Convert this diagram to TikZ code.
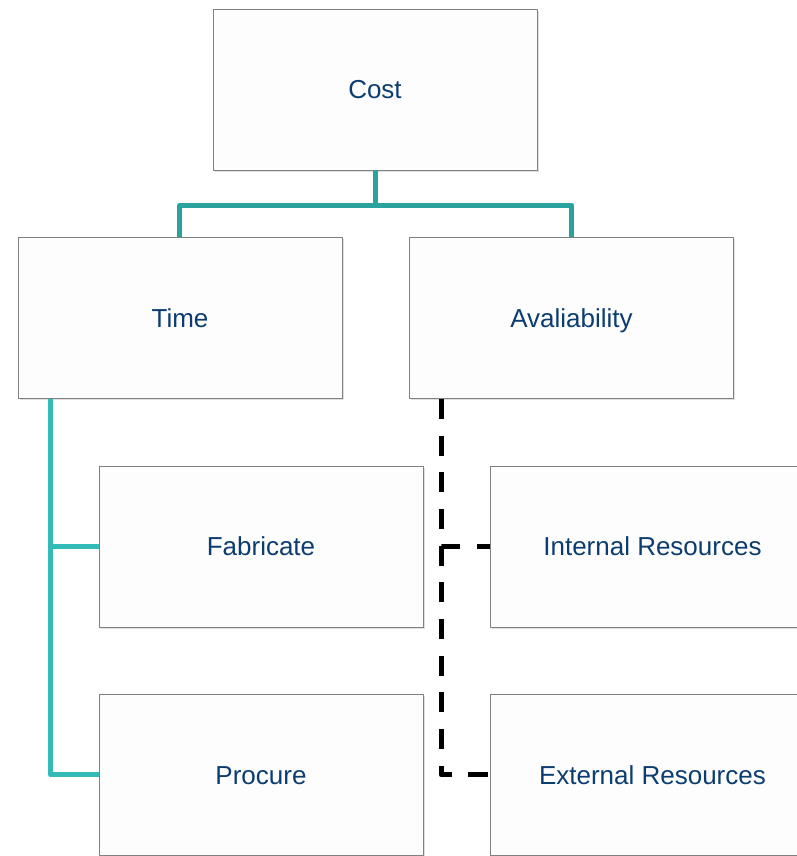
\documentclass[tikz,border=0pt]{standalone}
\usepackage{fontspec}
\setmainfont{Liberation Sans}
\usepackage{tikz}
\usetikzlibrary{positioning,shadows}

\definecolor{labelblue}{RGB}{12,61,112}
\definecolor{topteal}{RGB}{42,163,158}
\definecolor{sideteal}{RGB}{51,187,186}
\definecolor{boxfill}{RGB}{253,253,253}
\definecolor{boxline}{RGB}{128,128,128}

\begin{document}
\begin{tikzpicture}[node distance=50pt, line join=round,
    box node/.style={rectangle, draw=boxline, fill=boxfill, line width=0.6pt, minimum width=243pt, minimum height=120.75pt, inner sep=0pt, text height=14pt, text depth=0pt, text=labelblue, font=\fontsize{19.5}{23}\selectfont, drop shadow={shadow xshift=1.2pt, shadow yshift=-1.5pt, opacity=0.25}},
    solid link/.style={line width=3.75pt},
    dash link/.style={line width=3.75pt, black, dash pattern=on 15pt off 12.5pt}]
        \useasboundingbox (-281.25pt,67.1pt) rectangle ++(597pt,-642pt);

        \node[box node] (cost) at (0,0) {Cost};
        \node[box node] (time) [below=of cost, xshift=-146.25pt] {Time};
        \node[box node] (avail) [right=of time] {Avaliability};
        \node[box node] (fab) [below=of time, xshift=60.75pt] {Fabricate};
        \node[box node] (proc) [below=of fab] {Procure};
        \node[box node] (intres) [right=of fab] {Internal Resources};
        \node[box node] (extres) [right=of proc] {External Resources};

        \draw[solid link, topteal] (cost.south) -- ++(0,-26pt) coordinate (split) -| (time.north);
        \draw[solid link, topteal] (split) -| (avail.north);

        \coordinate (timetrunk) at ([xshift=24.75pt]time.south west);
        \draw[solid link, sideteal] (timetrunk) |- (fab.west);
        \draw[solid link, sideteal] (timetrunk) |- (proc.west);

        \coordinate (availtrunk) at ([xshift=24pt]avail.south west);
        \draw[dash link] (availtrunk) |- (intres.west);
        \draw[dash link] (availtrunk) |- (extres.west);
    \end{tikzpicture}
\end{document}
